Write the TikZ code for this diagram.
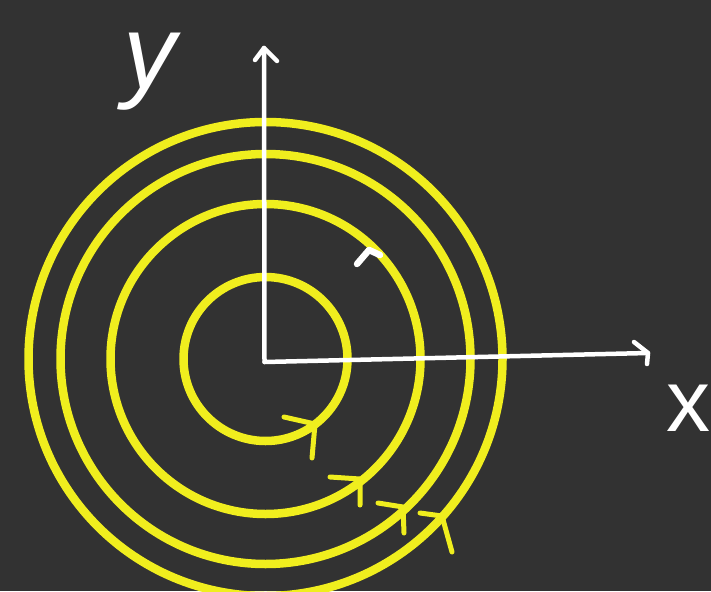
\documentclass[tikz,border=0pt]{standalone}
\usepackage{fontspec}
\setmainfont{Liberation Sans}
\definecolor{bgdark}{RGB}{50,50,50}
\definecolor{ringyellow}{RGB}{240,238,30}
\begin{document}
\begin{tikzpicture}[x=1pt,y=-1pt,
  ring/.style={draw=ringyellow,line width=8.5pt},
  chev/.style={draw=ringyellow,line width=5pt,line cap=round,line join=round},
  axis/.style={draw=white,line width=4.5pt,line cap=round,line join=round},
  lbl/.style={text=white,inner sep=0pt}]
\fill[bgdark] (0,0) rectangle (711,591);
\useasboundingbox (0,0) rectangle (711,591);
\coordinate (C) at (265.5,359);
% rings
\draw[ring] (C) circle[radius=82];
\draw[ring] (C) circle[radius=155];
\draw[ring] (C) circle[radius=205];
\draw[ring] (C) circle[radius=237];
% chevrons (direction marks)
\draw[chev] (284,417) -- (315,424) -- (312,458);
\draw[chev] (330,477) -- (360,479) -- (360,505);
\draw[chev] (378,503) -- (403,507) -- (404,533);
\draw[chev] (420,513) -- (442,516) -- (452,552);
% axes
\coordinate (O) at (264.5,362);
\coordinate (Ytip) at (264,48);
\coordinate (Xtip) at (648,353);
\draw[axis] (O) -- (Ytip);
\draw[axis] (255,60) -- (Ytip) -- (277,61);
\draw[axis] (O) -- (Xtip);
\draw[axis] (634,342) -- (Xtip) -- (647,364);
% white hook mark
\draw[draw=white,line width=6.5pt,line cap=round,line join=round] (357,264) -- (369,250) -- (380,255);
% labels
\node[lbl,font=\itshape\fontsize{105}{105}\selectfont] (ylab) at (150,72) {y};
\node[lbl,font=\fontsize{88}{88}\selectfont] (xlab) at (688,408) {x};
\end{tikzpicture}
\end{document}
